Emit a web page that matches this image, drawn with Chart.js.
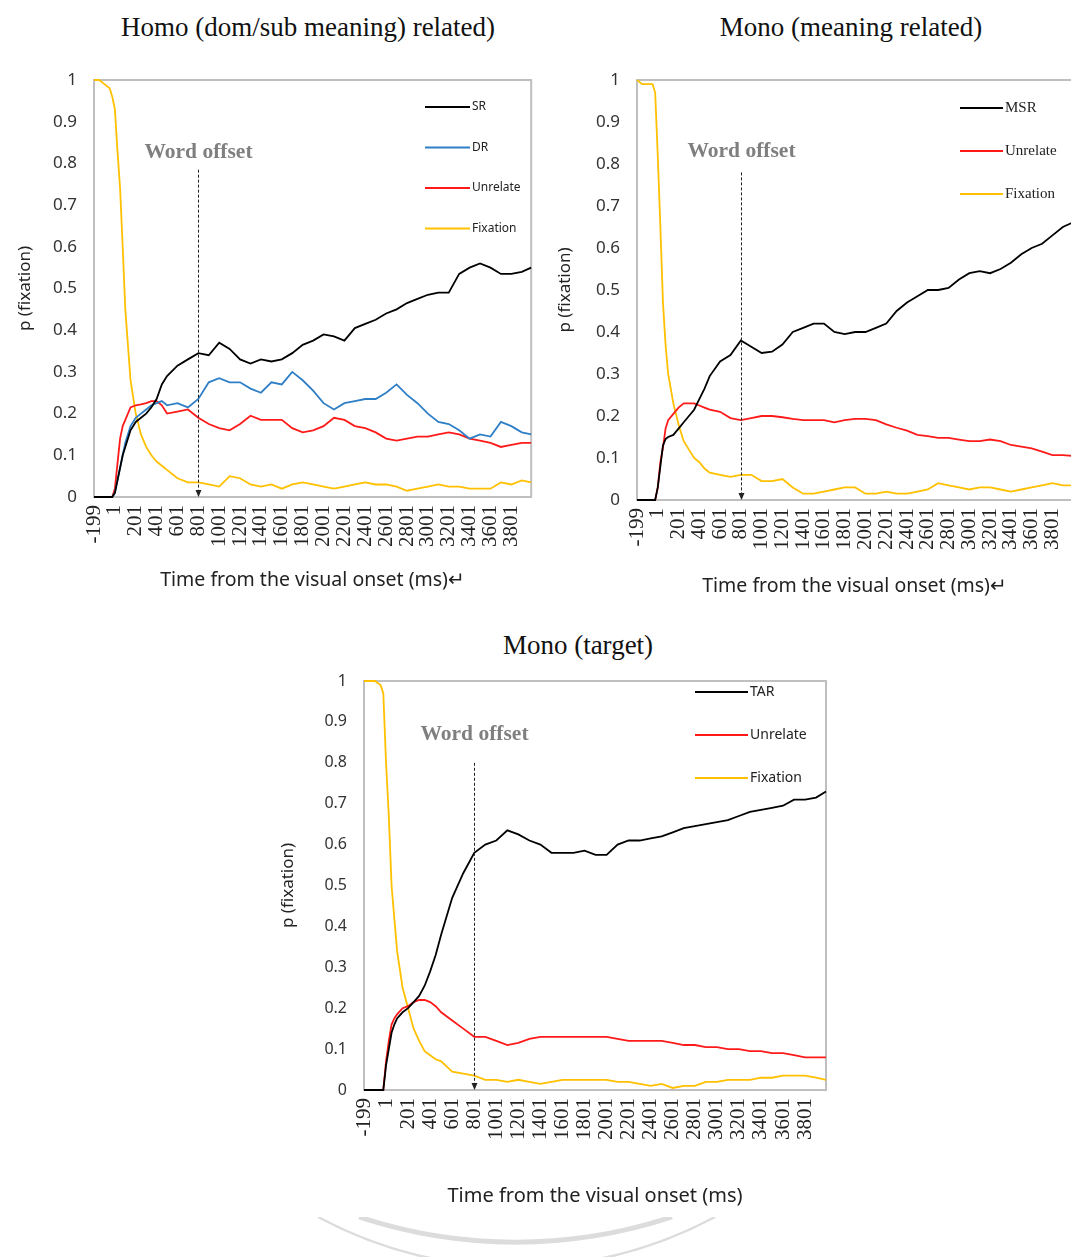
<!DOCTYPE html>
<html lang="en">
<head>
  <meta charset="UTF-8" />
  <title>Fixation proportion over time</title>
  <script src="https://cdn.jsdelivr.net/npm/chart.js"></script>
  <style>
    html, body {
      margin: 0;
      padding: 0;
      background: #fff;
    }
    body {
      width: 1071px;
      height: 1257px;
      overflow: hidden;
      position: relative;
    }
    .title {
      position: absolute;
      font-family: "Liberation Serif", "Times New Roman", serif;
      font-size: 27px;
      line-height: 27px;
      color: #111;
      white-space: nowrap;
      transform: translateX(-50%);
    }
    .box {
      position: absolute;
    }
    #mark {
      position: absolute;
      left: 0;
      top: 1217px;
    }
  </style>
</head>
<body>
  <div class="title" style="left:308px; top:14px;">Homo (dom/sub meaning) related)</div>
  <div class="title" style="left:851px; top:14px;">Mono (meaning related)</div>
  <div class="title" style="left:578px; top:632px;">Mono (target)</div>

  <div class="box" style="left:0; top:60px;"><canvas id="homoChart" width="545" height="540"></canvas></div>
  <div class="box" style="left:540px; top:60px;"><canvas id="monoChart" width="546" height="540"></canvas></div>
  <div class="box" style="left:270px; top:660px;"><canvas id="targetChart" width="570" height="560"></canvas></div>

  <svg id="mark" width="1071" height="40">
    <path d="M 318 0 A 420 420 0 0 0 715 0" fill="none" stroke="#dcdcdc" stroke-width="2.5" />
    <path d="M 359 0 A 499 499 0 0 0 672 0" fill="none" stroke="#dcdcdc" stroke-width="5" />
  </svg>

  <script>
    // time (ms from visual onset)
    const TIMES = [-199, -149, -99, -49, -24, 1, 26, 51, 76, 101, 151, 201, 251, 301, 351, 401, 451, 501,
      601, 701, 801, 901, 1001, 1101, 1201, 1301, 1401, 1501, 1601, 1701, 1801, 1901, 2001, 2101, 2201,
      2301, 2401, 2501, 2601, 2701, 2801, 2901, 3001, 3101, 3201, 3301, 3401, 3501, 3601, 3701, 3801, 3901, 3991];
    const X_TICKS = [-199, 1, 201, 401, 601, 801, 1001, 1201, 1401, 1601, 1801, 2001, 2201, 2401, 2601,
      2801, 3001, 3201, 3401, 3601, 3801];
    const WORD_OFFSET_MS = 801;

    // Homo (dom/sub meaning) related
    const homoSR = [0, 0, 0, 0, 0, 0.01, 0.04, 0.07, 0.10, 0.12, 0.16, 0.18, 0.19, 0.20, 0.215, 0.235, 0.27, 0.29,
      0.315, 0.33, 0.345, 0.34, 0.37, 0.355, 0.33, 0.32, 0.33, 0.325, 0.33, 0.345, 0.365, 0.375, 0.39, 0.385, 0.375,
      0.405, 0.415, 0.425, 0.44, 0.45, 0.465, 0.475, 0.485, 0.49, 0.49, 0.535, 0.55, 0.56, 0.55, 0.535, 0.535, 0.54, 0.55];
    const homoDR = [0, 0, 0, 0, 0, 0.01, 0.04, 0.07, 0.10, 0.13, 0.17, 0.19, 0.20, 0.21, 0.22, 0.225, 0.23, 0.22,
      0.225, 0.215, 0.235, 0.275, 0.285, 0.275, 0.275, 0.26, 0.25, 0.275, 0.27, 0.30, 0.28, 0.255, 0.225, 0.21, 0.225,
      0.23, 0.235, 0.235, 0.25, 0.27, 0.245, 0.225, 0.20, 0.18, 0.175, 0.16, 0.14, 0.15, 0.145, 0.18, 0.17, 0.155, 0.15];
    const homoUnrelate = [0, 0, 0, 0, 0, 0.02, 0.08, 0.14, 0.17, 0.185, 0.215, 0.22, 0.222, 0.225, 0.23, 0.23, 0.22, 0.20,
      0.205, 0.21, 0.19, 0.175, 0.165, 0.16, 0.175, 0.195, 0.185, 0.185, 0.185, 0.165, 0.155, 0.16, 0.17, 0.19, 0.185,
      0.17, 0.165, 0.155, 0.14, 0.135, 0.14, 0.145, 0.145, 0.15, 0.155, 0.15, 0.14, 0.135, 0.13, 0.12, 0.125, 0.13, 0.13];
    const homoFixation = [1, 1, 0.99, 0.98, 0.96, 0.93, 0.83, 0.74, 0.60, 0.45, 0.28, 0.20, 0.15, 0.12, 0.10, 0.085, 0.075, 0.065,
      0.045, 0.035, 0.035, 0.03, 0.025, 0.05, 0.045, 0.03, 0.025, 0.03, 0.02, 0.03, 0.035, 0.03, 0.025, 0.02, 0.025,
      0.03, 0.035, 0.03, 0.03, 0.025, 0.015, 0.02, 0.025, 0.03, 0.025, 0.025, 0.02, 0.02, 0.02, 0.035, 0.03, 0.04, 0.035];

    // Mono (meaning related)
    const monoMSR = [0, 0, 0, 0, 0, 0.03, 0.08, 0.13, 0.145, 0.15, 0.155, 0.17, 0.185, 0.20, 0.215, 0.24, 0.265, 0.295,
      0.33, 0.345, 0.38, 0.365, 0.35, 0.353, 0.37, 0.40, 0.41, 0.42, 0.42, 0.40, 0.395, 0.40, 0.40, 0.41, 0.42,
      0.45, 0.47, 0.485, 0.50, 0.50, 0.505, 0.525, 0.54, 0.545, 0.54, 0.55, 0.565, 0.585, 0.60, 0.61, 0.63, 0.65, 0.66];
    const monoUnrelate = [0, 0, 0, 0, 0, 0.03, 0.09, 0.125, 0.17, 0.19, 0.205, 0.22, 0.23, 0.23, 0.23, 0.225, 0.22, 0.215,
      0.21, 0.195, 0.19, 0.195, 0.20, 0.20, 0.197, 0.193, 0.19, 0.19, 0.19, 0.185, 0.19, 0.193, 0.193, 0.19, 0.18,
      0.172, 0.165, 0.155, 0.152, 0.148, 0.148, 0.144, 0.14, 0.14, 0.144, 0.14, 0.131, 0.127, 0.123, 0.115, 0.107, 0.107, 0.105];
    const monoFixation = [1, 0.99, 0.99, 0.99, 0.97, 0.82, 0.65, 0.47, 0.37, 0.30, 0.23, 0.18, 0.14, 0.12, 0.10, 0.09, 0.075, 0.065,
      0.06, 0.055, 0.06, 0.06, 0.045, 0.045, 0.05, 0.03, 0.015, 0.015, 0.02, 0.025, 0.03, 0.03, 0.015, 0.015, 0.02,
      0.015, 0.015, 0.02, 0.025, 0.04, 0.035, 0.03, 0.025, 0.03, 0.03, 0.025, 0.02, 0.025, 0.03, 0.035, 0.04, 0.035, 0.035];

    // Mono (target)
    const targetTAR = [0, 0, 0, 0, 0, 0.06, 0.10, 0.14, 0.16, 0.175, 0.19, 0.20, 0.215, 0.23, 0.255, 0.29, 0.33, 0.38,
      0.47, 0.53, 0.58, 0.60, 0.61, 0.635, 0.625, 0.61, 0.60, 0.58, 0.58, 0.58, 0.585, 0.575, 0.575, 0.60, 0.61,
      0.61, 0.615, 0.62, 0.63, 0.64, 0.645, 0.65, 0.655, 0.66, 0.67, 0.68, 0.685, 0.69, 0.695, 0.71, 0.71, 0.715, 0.73];
    const targetUnrelate = [0, 0, 0, 0, 0, 0.07, 0.12, 0.16, 0.175, 0.185, 0.20, 0.205, 0.215, 0.22, 0.22, 0.215, 0.205, 0.19,
      0.17, 0.15, 0.13, 0.13, 0.12, 0.11, 0.115, 0.125, 0.13, 0.13, 0.13, 0.13, 0.13, 0.13, 0.13, 0.125, 0.12,
      0.12, 0.12, 0.12, 0.115, 0.11, 0.11, 0.105, 0.105, 0.10, 0.10, 0.095, 0.095, 0.09, 0.09, 0.085, 0.08, 0.08, 0.08];
    const targetFixation = [1, 1, 1, 0.99, 0.97, 0.80, 0.67, 0.50, 0.42, 0.34, 0.25, 0.20, 0.15, 0.12, 0.095, 0.085, 0.075, 0.07,
      0.045, 0.04, 0.035, 0.025, 0.025, 0.02, 0.025, 0.02, 0.015, 0.02, 0.025, 0.025, 0.025, 0.025, 0.025, 0.02, 0.02,
      0.015, 0.01, 0.015, 0.005, 0.01, 0.01, 0.02, 0.02, 0.025, 0.025, 0.025, 0.03, 0.03, 0.035, 0.035, 0.035, 0.03, 0.025];

    const BLACK = "#000000";
    const BLUE = "#2e7fc6";
    const RED = "#ff1a1a";
    const YELLOW = "#ffc000";

    // frame, "Word offset" marker and the legend drawn inside the plot
    const extras = {
      id: "extras",
      beforeDatasetsDraw(chart) {
        const { ctx, chartArea: a } = chart;
        ctx.save();
        ctx.strokeStyle = "#bfbfbf";
        ctx.lineWidth = 2;
        ctx.strokeRect(a.left, a.top, a.right - a.left, a.bottom - a.top);
        ctx.restore();
      },
      afterDatasetsDraw(chart, args, o) {
        const { ctx, chartArea: a, scales: { x, y } } = chart;
        ctx.save();
        const px = Math.round(x.getPixelForValue(WORD_OFFSET_MS)) + 0.5;
        ctx.font = 'bold 21.5px "Liberation Serif"';
        ctx.fillStyle = "#7f7f7f";
        ctx.textAlign = "center";
        ctx.textBaseline = "middle";
        ctx.fillText("Word offset", px, y.getPixelForValue(o.labelAt));

        ctx.strokeStyle = "#222";
        ctx.lineWidth = 1;
        ctx.setLineDash([3, 2]);
        ctx.beginPath();
        ctx.moveTo(px, y.getPixelForValue(o.lineFrom));
        ctx.lineTo(px, a.bottom - 6);
        ctx.stroke();
        ctx.setLineDash([]);
        ctx.fillStyle = "#222";
        ctx.beginPath();
        ctx.moveTo(px - 3, a.bottom - 7);
        ctx.lineTo(px + 3, a.bottom - 7);
        ctx.lineTo(px, a.bottom);
        ctx.closePath();
        ctx.fill();

        ctx.font = o.legendFont;
        ctx.textAlign = "left";
        chart.data.datasets.forEach((ds, i) => {
          const ly = a.top + o.legendTop + i * o.legendGap;
          const lx = a.left + o.legendLeft;
          ctx.strokeStyle = ds.borderColor;
          ctx.lineWidth = 2;
          ctx.beginPath();
          ctx.moveTo(lx, ly);
          ctx.lineTo(lx + o.legendLen, ly);
          ctx.stroke();
          ctx.fillStyle = "#222";
          ctx.fillText(ds.label, lx + o.legendLen + 2, ly);
        });
        ctx.restore();
      }
    };

    function makeChart(id, series, cfg) {
      return new Chart(document.getElementById(id), {
        type: "line",
        data: {
          datasets: series.map(s => ({
            label: s.label,
            data: TIMES.map((t, i) => ({ x: t, y: s.values[i] })),
            borderColor: s.color,
            borderWidth: 1.8,
            pointRadius: 0,
            tension: 0,
            clip: 3
          }))
        },
        options: {
          responsive: false,
          animation: false,
          layout: { padding: cfg.padding },
          plugins: {
            legend: { display: false },
            tooltip: { enabled: false },
            extras: cfg.extras
          },
          scales: {
            x: {
              type: "linear",
              min: -199,
              max: 3991,
              grid: { display: false, drawTicks: false },
              border: { display: false },
              afterBuildTicks: s => { s.ticks = X_TICKS.map(v => ({ value: v })); },
              afterFit: s => { s.height = cfg.xHeight; },
              ticks: {
                autoSkip: false,
                minRotation: 90,
                maxRotation: 90,
                padding: 8,
                color: "#222",
                font: { family: '"Liberation Serif"', size: 21 },
                callback: v => String(v)
              },
              title: {
                display: true,
                text: cfg.xTitle,
                color: "#222",
                font: { family: '"Noto Sans"', size: cfg.xTitleSize },
                padding: { top: 0, bottom: cfg.xTitlePad }
              }
            },
            y: {
              min: 0,
              max: 1,
              grid: { display: false, drawTicks: true, tickLength: 13 },
              border: { display: false },
              afterFit: s => { s.width = cfg.yWidth; },
              ticks: {
                stepSize: 0.1,
                padding: 4,
                color: "#333",
                font: { family: '"Noto Sans"', size: cfg.yTickSize },
                callback: v => String(+v.toFixed(1))
              },
              title: {
                display: true,
                text: "p (fixation)",
                color: "#222",
                font: { family: '"Noto Sans"', size: 17 },
                padding: { top: cfg.yTitlePad, bottom: 0 }
              }
            }
          }
        },
        plugins: [extras]
      });
    }

    makeChart("homoChart", [
      { label: "SR", values: homoSR, color: BLACK },
      { label: "DR", values: homoDR, color: BLUE },
      { label: "Unrelate", values: homoUnrelate, color: RED },
      { label: "Fixation", values: homoFixation, color: YELLOW }
    ], {
      padding: { left: 0, top: 20, right: 10, bottom: 0 },
      yWidth: 94, xHeight: 103, xTitlePad: 8, xTitleSize: 19.5, yTitlePad: 15, yTickSize: 17,
      xTitle: "Time from the visual onset (ms)\u21b5",
      extras: { labelAt: 0.827, lineFrom: 0.785, legendLeft: 331, legendTop: 27, legendGap: 40.5, legendLen: 45,
        legendFont: '12px "Noto Sans"' }
    });

    makeChart("monoChart", [
      { label: "MSR", values: monoMSR, color: BLACK },
      { label: "Unrelate", values: monoUnrelate, color: RED },
      { label: "Fixation", values: monoFixation, color: YELLOW }
    ], {
      padding: { left: 0, top: 20, right: 8, bottom: 0 },
      yWidth: 97, xHeight: 100, xTitlePad: 2, xTitleSize: 19.5, yTitlePad: 15, yTickSize: 17,
      xTitle: "Time from the visual onset (ms)\u21b5",
      extras: { labelAt: 0.83, lineFrom: 0.78, legendLeft: 323, legendTop: 28, legendGap: 43, legendLen: 43,
        legendFont: '15px "Liberation Serif"' }
    });

    makeChart("targetChart", [
      { label: "TAR", values: targetTAR, color: BLACK },
      { label: "Unrelate", values: targetUnrelate, color: RED },
      { label: "Fixation", values: targetFixation, color: YELLOW }
    ], {
      padding: { left: 0, top: 21, right: 14, bottom: 0 },
      yWidth: 94, xHeight: 130, xTitlePad: 12, xTitleSize: 20, yTitlePad: 8, yTickSize: 16,
      xTitle: "Time from the visual onset (ms)",
      extras: { labelAt: 0.87, lineFrom: 0.8, legendLeft: 331, legendTop: 11, legendGap: 43, legendLen: 53,
        legendFont: '14px "Noto Sans"' }
    });
  </script>
</body>
</html>
